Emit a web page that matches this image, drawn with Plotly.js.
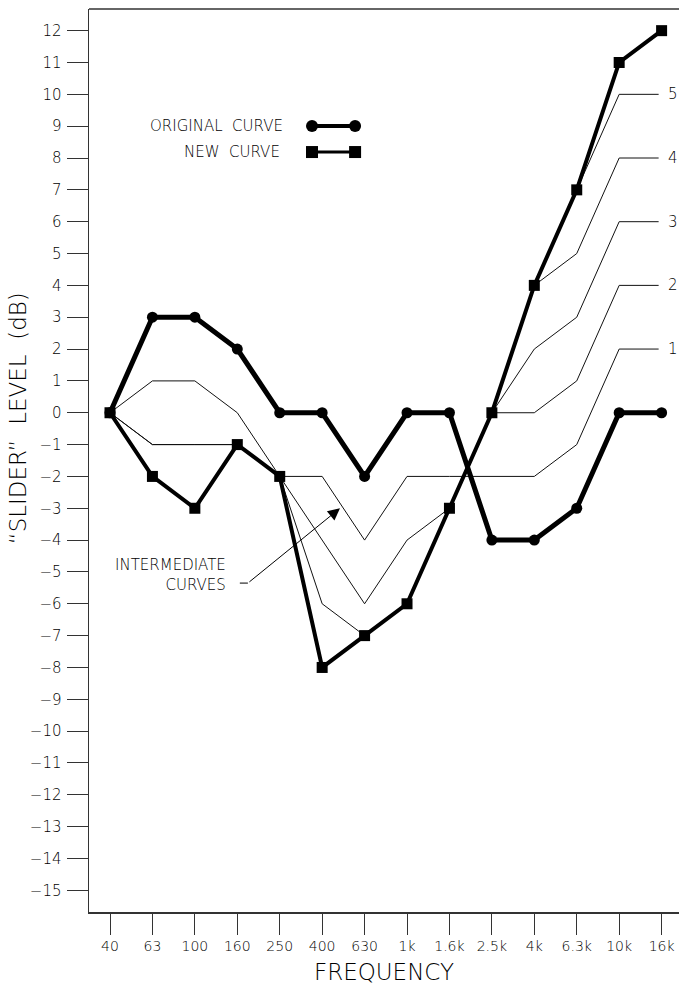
<!DOCTYPE html>
<html>
<head>
<meta charset="utf-8">
<script src="https://cdn.plot.ly/plotly-3.0.1.min.js"></script>
<style>
  html, body { margin: 0; padding: 0; background: #fff; overflow: hidden; }
  #chart { width: 679px; height: 985px; }
</style>
</head>
<body>
<div id="chart"></div>
<script>
// ---- data ----
const FREQ_LABELS = ['40', '63', '100', '160', '250', '400', '630', '1k', '1.6k', '2.5k', '4k', '6.3k', '10k', '16k'];
const ORIGINAL_CURVE = [0, 3, 3, 2, 0, 0, -2, 0, 0, -4, -4, -3, 0, 0];
const NEW_CURVE = [0, -2, -3, -1, -2, -8, -7, -6, -3, 0, 4, 7, 11, 12];
// intermediate curves, 40 Hz .. 10k
const CURVE_1 = [0, 1, 1, 0, -2, -2, -4, -2, -2, -2, -2, -1, 2];
const CURVE_2 = [0, -1, -1, -1, -2, -4, -6, -4, -3, 0, 0, 1, 4];
const CURVE_3 = [0, -1, -1, -1, -2, -6, -7, -6, -3, 0, 2, 3, 6];
const CURVE_4 = [0, -2, -3, -1, -2, -8, -7, -6, -3, 0, 4, 5, 8];
const CURVE_5 = [0, -2, -3, -1, -2, -8, -7, -6, -3, 0, 4, 7, 10];
const CURVE_LABELS = ['1', '2', '3', '4', '5'];
const Y_TICKS = [12, 11, 10, 9, 8, 7, 6, 5, 4, 3, 2, 1, 0, -1, -2, -3, -4, -5, -6, -7, -8, -9, -10, -11, -12, -13, -14, -15];

// ---- layout constants ----
const FONT = 'DejaVu Sans, Verdana, sans-serif';
const W = 300;
const INK = '#000';
const LEADER_END_X = 12.93;   // where the label leader lines stop
const LABEL_X = 13.1;
const idx = FREQ_LABELS.map((_, i) => i);

const traces = [];
const curves = [CURVE_1, CURVE_2, CURVE_3, CURVE_4, CURVE_5];
curves.forEach((c) => {
  const xs = c.map((_, i) => i);
  xs.push(LEADER_END_X);
  const ys = c.slice();
  ys.push(c[c.length - 1]);
  traces.push({
    x: xs, y: ys, type: 'scatter', mode: 'lines',
    line: { color: '#111', width: 1 }, hoverinfo: 'skip', showlegend: false
  });
});

traces.push({
  x: idx, y: NEW_CURVE, type: 'scatter', mode: 'lines+markers', name: 'NEW CURVE',
  line: { color: INK, width: 4 },
  marker: { symbol: 'square', size: 11, color: INK },
  showlegend: false
});
traces.push({
  x: idx, y: ORIGINAL_CURVE, type: 'scatter', mode: 'lines+markers', name: 'ORIGINAL CURVE',
  line: { color: INK, width: 5 },
  marker: { symbol: 'circle', size: 11, color: INK },
  showlegend: false
});

// legend samples on an overlay paper-like axis
const LEG_X = [0.378, 0.451];
const LEG_Y_ORIG = 0.8704;
const LEG_Y_NEW = 0.8416;
traces.push({
  x: LEG_X, y: [LEG_Y_ORIG, LEG_Y_ORIG], xaxis: 'x2', yaxis: 'y2',
  type: 'scatter', mode: 'lines+markers', hoverinfo: 'skip', showlegend: false,
  line: { color: INK, width: 4 }, marker: { symbol: 'circle', size: 12, color: INK }
});
traces.push({
  x: LEG_X, y: [LEG_Y_NEW, LEG_Y_NEW], xaxis: 'x2', yaxis: 'y2',
  type: 'scatter', mode: 'lines+markers', hoverinfo: 'skip', showlegend: false,
  line: { color: INK, width: 3 }, marker: { symbol: 'square', size: 12, color: INK }
});

const annotations = [];
curves.forEach((c, k) => {
  annotations.push({
    x: LABEL_X, y: c[c.length - 1], xref: 'x', yref: 'y',
    text: CURVE_LABELS[k], showarrow: false, xanchor: 'left', yanchor: 'middle',
    font: { family: FONT, size: 15, color: INK, weight: W }
  });
});
annotations.push({
  x: 0.332, y: LEG_Y_ORIG, xref: 'paper', yref: 'paper',
  text: 'ORIGINAL\u00a0\u00a0CURVE', showarrow: false, xanchor: 'right', yanchor: 'middle',
  font: { family: FONT, size: 15, color: INK, weight: W }
});
annotations.push({
  x: 0.327, y: LEG_Y_NEW, xref: 'paper', yref: 'paper',
  text: 'NEW\u00a0\u00a0CURVE', showarrow: false, xanchor: 'right', yanchor: 'middle',
  font: { family: FONT, size: 15, color: INK, weight: W }
});
annotations.push({
  x: 2.78, y: -5.1, xref: 'x', yref: 'y',
  text: 'INTERMEDIATE<br>CURVES', showarrow: false, xanchor: 'right', yanchor: 'middle', align: 'right',
  font: { family: FONT, size: 15, color: INK, weight: W }
});
annotations.push({
  x: 5.42, y: -3.0, xref: 'x', yref: 'y', ax: 3.25, ay: -5.35, axref: 'x', ayref: 'y',
  text: '', showarrow: true, arrowhead: 2, arrowsize: 2.4, arrowwidth: 1, arrowcolor: INK, standoff: 0
});
annotations.push({
  x: -0.12, y: 0.547, xref: 'paper', yref: 'paper', textangle: -90,
  text: '\u201cSLIDER\u201d\u00a0\u00a0LEVEL\u00a0\u00a0(dB)', showarrow: false,
  xanchor: 'center', yanchor: 'middle',
  font: { family: FONT, size: 23, color: INK, weight: W }
});

const shapes = [
  { type: 'line', xref: 'paper', yref: 'paper', x0: 0, x1: 1, y0: 1, y1: 1, line: { color: '#333', width: 1.5 } },
  { type: 'line', xref: 'x', yref: 'y', x0: 3.06, x1: 3.25, y0: -5.35, y1: -5.35, line: { color: INK, width: 1 } }
];

const layout = {
  width: 679, height: 985,
  margin: { l: 89, r: 0, t: 9, b: 73 },
  paper_bgcolor: '#fff', plot_bgcolor: '#fff',
  showlegend: false,
  font: { family: FONT, color: INK, weight: W },
  xaxis: {
    range: [-0.495, 13.41], tickmode: 'array', tickvals: idx, ticktext: FREQ_LABELS,
    ticks: 'outside', ticklen: 21, tickwidth: 1, tickcolor: '#333',
    showline: true, linecolor: '#333', linewidth: 1.5, showgrid: false, zeroline: false,
    tickfont: { family: FONT, size: 14, color: INK, weight: W },
    title: { text: 'FREQUENCY', font: { family: FONT, size: 23, color: INK, weight: W }, standoff: 10 },
    fixedrange: true
  },
  yaxis: {
    range: [-15.68, 12.68], tickmode: 'array', tickvals: Y_TICKS,
    ticks: 'outside', ticklen: 21, tickwidth: 1, tickcolor: '#333', ticklabelstandoff: 2,
    showline: true, linecolor: '#333', linewidth: 1.5, showgrid: false, zeroline: false,
    tickfont: { family: FONT, size: 15, color: INK, weight: W },
    fixedrange: true
  },
  xaxis2: { overlaying: 'x', range: [0, 1], visible: false, fixedrange: true },
  yaxis2: { overlaying: 'y', range: [0, 1], visible: false, fixedrange: true },
  annotations: annotations,
  shapes: shapes
};

Plotly.newPlot('chart', traces, layout, { displayModeBar: false, staticPlot: true });
</script>
</body>
</html>
